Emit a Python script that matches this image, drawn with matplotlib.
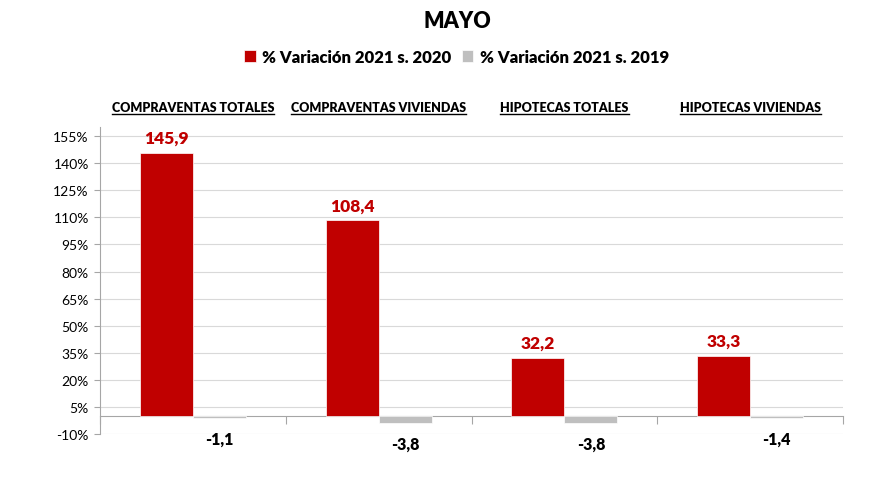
import numpy as np
import matplotlib
matplotlib.use("Agg")
import matplotlib.pyplot as plt
from matplotlib.lines import Line2D

plt.rcParams['font.family'] = ['Lato', 'DejaVu Sans']

# data
categories = ["COMPRAVENTAS TOTALES", "COMPRAVENTAS VIVIENDAS",
              "HIPOTECAS TOTALES", "HIPOTECAS VIVIENDAS"]
var_2020 = [145.9, 108.4, 32.2, 33.3]
var_2019 = [-1.1, -3.8, -3.8, -1.4]
series_names = ["% Variación 2021 s. 2020", "% Variación 2021 s. 2019"]
title = "MAYO"
yticks = list(range(-10, 156, 15))

RED = "#C00000"
GREY = "#BFBFBF"

fig = plt.figure(figsize=(8.8, 4.81), dpi=100)
ax = fig.add_axes([0.1136, 0.0956, 0.8444, 0.638])

x = np.arange(len(categories))
w = 0.285
b1 = ax.bar(x - w / 2, var_2020, w, color=RED, edgecolor="white", linewidth=0.5,
            label=series_names[0], zorder=3)
b2 = ax.bar(x + w / 2, var_2019, w, color=GREY, edgecolor="white", linewidth=0.5,
            label=series_names[1], zorder=3)

for xi, v in zip(x - w / 2, var_2020):
    ax.annotate(f"{v:.1f}".replace(".", ","), (xi, v), xytext=(0, 5),
                textcoords="offset points", ha="center", va="bottom",
                color=RED, fontsize=12.5, fontweight="heavy")
for xi, v in zip(x + w / 2, var_2019):
    ax.annotate(f"{v:.1f}".replace(".", ","), (xi, v), xytext=(0, -9),
                textcoords="offset points", ha="center", va="top",
                color="black", fontsize=11.5, fontweight="heavy")

ax.set_xlim(-0.5, len(categories) - 0.5)
ax.set_ylim(-10, 160)
ax.set_yticks(yticks)
ax.set_yticklabels([f"{t}%" for t in yticks], fontsize=10)
ax.yaxis.grid(True, color="#D9D9D9", linewidth=0.8, zorder=0)
ax.tick_params(axis="y", length=4, color="#A6A6A6", pad=4)

ax.set_xticks(np.arange(-0.5, len(categories), 1.0))
ax.set_xticklabels([])
ax.tick_params(axis="x", length=6, color="#A6A6A6", direction="out")
ax.spines["bottom"].set_position(("data", 0))
ax.spines["bottom"].set_color("#A6A6A6")
ax.spines["left"].set_color("#A6A6A6")
ax.spines["top"].set_visible(False)
ax.spines["right"].set_visible(False)

# category titles above the plot, underlined
fig.canvas.draw()
renderer = fig.canvas.get_renderer()
cat_y = 1 - 108 / 481
for xi, name in zip(x, categories):
    xf = fig.transFigure.inverted().transform(ax.transData.transform((xi, 0)))[0]
    t = fig.text(xf, cat_y, name, ha="center", va="center", fontsize=9,
                 fontweight="heavy")
    bb = t.get_window_extent(renderer).transformed(fig.transFigure.inverted())
    fig.add_artist(Line2D([bb.x0, bb.x1], [bb.y0 - 0.002, bb.y0 - 0.002],
                          color="black", linewidth=1.0,
                          transform=fig.transFigure))

fig.text(0.52, 1 - 22 / 481, title, ha="center", va="center",
         fontsize=15.5, fontweight="heavy")
fig.legend(handles=[b1, b2], loc="center", bbox_to_anchor=(0.519, 1 - 58 / 481),
           ncol=2, frameon=False, handlelength=0.7,
           handleheight=0.7, handletextpad=0.4, columnspacing=0.6,
           prop={"weight": "heavy", "size": 12})

fig.savefig("out.png", dpi=100)
